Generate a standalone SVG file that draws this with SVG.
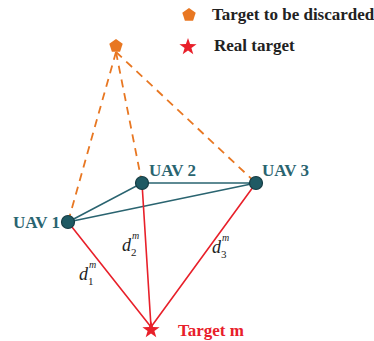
<svg xmlns="http://www.w3.org/2000/svg" width="374" height="341" viewBox="0 0 374 341">
<style>
.lbl{font-family:"Liberation Serif","Times New Roman","DejaVu Serif",serif;font-weight:bold;font-size:17px}
.uavl{fill:#2a6470}
.leg{fill:#222}
.red{stroke:#e8202a;stroke-width:1.6;fill:none}
.teal{stroke:#2a6470;stroke-width:1.6;fill:none}
.dash{stroke:#e87722;stroke-width:1.8;stroke-dasharray:8,6;fill:none}
.uav{fill:#1f5a64;stroke:#163c44;stroke-width:1.2}
.d{font-family:"Liberation Serif","Times New Roman",serif;font-style:italic;font-size:18px;fill:#222}
.sub{font-family:"Liberation Serif","Times New Roman",serif;font-size:11px;fill:#222}
.sup{font-family:"Liberation Serif","Times New Roman",serif;font-style:italic;font-size:10px;fill:#222}
</style>
<defs>
<polygon id="pent" points="0,-7 6.7,-2.2 4.1,5.7 -4.1,5.7 -6.7,-2.2" fill="#e87722"/>
<polygon id="star" points="0,-9 2.1,-2.9 8.6,-2.8 3.4,1.1 5.3,7.3 0,3.6 -5.3,7.3 -3.4,1.1 -8.6,-2.8 -2.1,-2.9" fill="#e8202a"/>
</defs>
<g id="legend">
<use href="#pent" x="189" y="15"/>
<text class="lbl leg" x="212" y="20">Target to be discarded</text>
<use href="#star" x="188" y="47"/>
<text class="lbl leg" x="214" y="51">Real target</text>
</g>
<g id="connectors">
<path class="dash" d="M116,52 L68,222"/>
<path class="dash" d="M116,52 L142,183"/>
<path class="dash" d="M116,52 L256,183"/>
<path class="teal" d="M68,222 L142,183 L256,183 Z"/>
<path class="red" d="M68,222 L151,327 M142,183 L151,327 M256,183 L151,327"/>
</g>
<g id="discarded"><use href="#pent" x="116" y="46"/></g>
<g id="uav1"><circle class="uav" cx="68" cy="222" r="6.5"/><text class="lbl uavl" x="13" y="228">UAV 1</text></g>
<g id="uav2"><circle class="uav" cx="142" cy="183" r="6.5"/><text class="lbl uavl" x="149" y="176">UAV 2</text></g>
<g id="uav3"><circle class="uav" cx="256" cy="183" r="6.5"/><text class="lbl uavl" x="262" y="176">UAV 3</text></g>
<g id="target"><use href="#star" x="151" y="330"/><text class="lbl" fill="#e8202a" x="178" y="336">Target m</text></g>
<g id="dlabels">
<text class="d" x="79" y="280">d</text><text class="sub" x="88" y="285">1</text><text class="sup" x="89" y="268">m</text>
<text class="d" x="122" y="251">d</text><text class="sub" x="131" y="256">2</text><text class="sup" x="132" y="239">m</text>
<text class="d" x="212" y="253">d</text><text class="sub" x="221" y="258">3</text><text class="sup" x="222" y="241">m</text>
</g>
</svg>
